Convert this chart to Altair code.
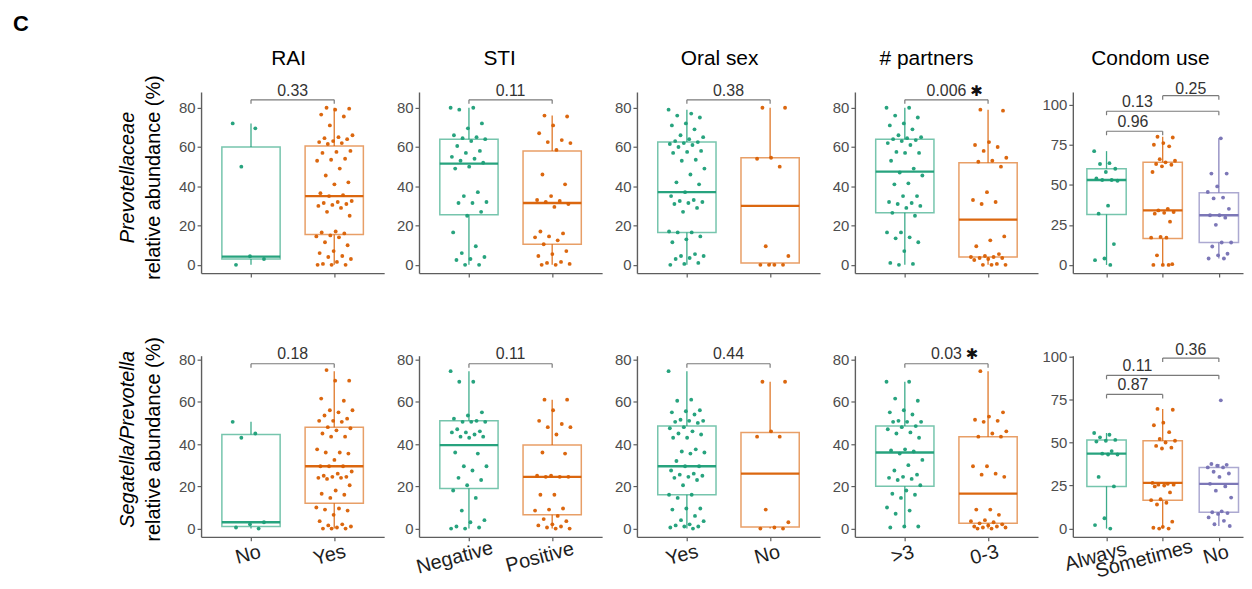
import altair as alt
import pandas as pd

GREEN, ORANGE, PURPLE = "#1b9e77", "#d95f02", "#7570b3"
FONT = "Liberation Sans"

# ---------------- text ----------------
titles = ["RAI", "STI", "Oral sex", "# partners", "Condom use"]
cats = [["No", "Yes"], ["Negative", "Positive"], ["Yes", "No"], [">3", "0-3"],
        ["Always", "Sometimes", "No"]]
ytitle_r1 = ["Prevotellaceae", "relative abundance (%)"]
ytitle_r2 = ["Segatella/Prevotella", "relative abundance (%)"]
panel_tag = "C"

# ---------------- row 1: Prevotellaceae ----------------
r1_rai_no = [72, 69.5, 50, 3, 4.4, 0]
r1_rai_yes = [80, 79.5, 79, 76.5, 75.5, 71, 66, 65, 64.5, 64, 63, 62.5, 62, 61.5, 58, 57.5,
              57, 54, 53.5, 53, 49, 45.5, 42, 41, 36.5, 35.5, 35, 32.5, 32, 31.5, 31, 30.5,
              30, 29, 27, 25, 17, 16.5, 16, 15, 14.5, 14, 11.5, 10, 7, 6, 4.5, 4, 3, 1.5,
              0.5, 0, 0, 0]
r1_sti_neg = [80, 80, 79, 72, 69.5, 66, 65, 64.5, 64, 63, 60.5, 58, 57, 55, 54, 53, 52, 50,
              49, 37, 35, 32, 31.5, 31.5, 27, 25, 16.5, 9.5, 6, 4, 3, 2.5, 0, 0]
r1_sti_pos = [76, 75.5, 71, 67, 63.5, 62.5, 62, 58.5, 46, 41, 35, 33, 32.5, 32, 31, 29.5,
              17, 16, 14.5, 14, 12.5, 10.5, 7, 5.5, 4.5, 1.5, 1, 0.5, 0, 0]
r1_oral_yes = [79, 77, 76, 75, 72, 71, 69, 66, 65, 64, 63, 62.5, 62, 61.5, 61, 60, 58, 57.5,
               57, 53.5, 53, 49, 46, 42, 41, 37, 35, 33, 32.5, 32, 31.5, 31, 29, 27, 17,
               16.5, 16.5, 14.5, 13, 11.5, 5.5, 4.5, 4.5, 3.5, 3, 1, 0.5, 0]
r1_oral_no = [80, 80, 54.5, 54, 50, 9.5, 4.5, 0, 0, 0, 0]
r1_part_gt3 = [80, 80, 76, 75, 72, 71, 69, 66, 65, 64.5, 64, 63.5, 63, 62, 61, 57.5, 57, 57,
               53, 49, 47, 45.5, 41.5, 41, 35, 35, 32, 31.5, 31, 30, 29, 26.5, 25, 16.5,
               16.5, 14, 13.5, 11.5, 7, 1, 0.5, 0]
r1_part_03 = [79, 78.5, 62.5, 61, 60, 58, 54.5, 53, 52.5, 50, 37, 33, 32, 31, 14.5, 12.5,
              9.5, 5.5, 4.5, 4, 4, 3.5, 3.5, 3, 2.5, 0.5, 0, 0, 0]
r1_cond_always = [71, 63.5, 63, 60, 58, 54, 53, 53, 52.5, 37, 32, 13, 4, 3, 0]
r1_cond_some = [80, 79.5, 76, 75, 74, 66, 65, 64, 63, 62.5, 61.5, 58, 35, 34, 33, 32.5, 32,
                27, 17.5, 17, 17, 6, 0.5, 0, 0, 0]
r1_cond_no = [79, 57, 57, 49, 45.5, 42, 41.5, 35, 31, 31, 29.5, 25, 14, 14, 11.5, 7, 6, 4, 4]

# box stats: [lower whisker, q1, median, q3, upper whisker]
r1_box = [
    [[0, 3, 4.2, 60, 72], [0, 15.5, 35, 60.5, 80]],
    [[0, 25.5, 51.5, 64, 80], [0, 10.5, 31.5, 58, 76]],
    [[0, 16.5, 37, 62.5, 79], [0, 1, 30, 54.5, 80]],
    [[0, 26.5, 47.5, 64, 80], [0, 4, 23, 52, 79]],
    [[0, 31.5, 53, 60, 71], [0, 16.5, 34, 64, 80], [4, 14, 31, 45, 79]],
]

# ---------------- row 2: Segatella/Prevotella ----------------
r2_rai_no = [50.5, 45, 43, 3, 2, 0.5, 0]
r2_rai_yes = [75, 70, 70, 61.5, 60.5, 56, 56, 55, 53.5, 52, 51, 51, 50.5, 48, 47.5, 46.5, 45,
              43.5, 43.5, 37.5, 36, 36, 35.5, 32.5, 29.5, 29.5, 29.5, 27, 26, 25, 24.5, 24.5,
              24, 24, 23.5, 20.5, 18, 16.5, 16, 14.5, 10, 9.5, 9, 8.5, 6.5, 3.5, 2, 1.5, 1,
              0.5, 0, 0, 0]
r2_sti_neg = [74.5, 69.5, 69.5, 55, 53.5, 52, 51, 50.5, 50.5, 50.5, 47, 46, 45.5, 45.5, 44.5,
              43.5, 43.5, 43, 36, 35.5, 29.5, 29.5, 27.5, 24, 23, 20.5, 18, 14.5, 8.5, 4, 3,
              1, 0.5, 0, 0]
r2_sti_pos = [61, 61, 56, 51, 49.5, 48, 48, 44.5, 36, 35.5, 25, 25, 24.5, 24.5, 24.5, 16, 16,
              9.5, 9, 8.5, 6, 4.5, 3.5, 2, 1.5, 1, 0.5, 0, 0]
r2_oral_yes = [74.5, 61, 60.5, 56, 55.5, 55, 54, 51.5, 51, 51, 50.5, 50, 48, 47.5, 46, 45,
               44.5, 43, 43, 37.5, 36.5, 36, 35.5, 32, 29.5, 29.5, 27.5, 26, 25.5, 25, 24.5,
               24, 23, 20.5, 16, 16, 14.5, 9.5, 9.5, 9, 6, 4, 3.5, 2, 1.5, 1, 1, 0.5, 0]
r2_oral_no = [69.5, 69.5, 46, 43.5, 43.5, 9, 3, 0.5, 0, 0]
r2_part_gt3 = [69.5, 69.5, 61.5, 60.5, 56, 55, 54, 51, 50.5, 50.5, 50.5, 48.5, 48, 47, 45.5,
               45, 43, 37.5, 37, 36.5, 35.5, 32.5, 30, 27.5, 25.5, 24.5, 24, 23.5, 23, 20.5,
               18, 16.5, 16, 14.5, 10, 8.5, 7, 1, 1, 0.5]
r2_part_03 = [74.5, 55, 53, 51.5, 51, 50.5, 46, 45, 43.5, 43.5, 29.5, 29.5, 26, 25.5, 24.5, 9,
              9, 6.5, 4, 3.5, 3, 2.5, 2, 1.5, 1, 1, 0.5, 0.5, 0, 0]
r2_cond_always = [55.5, 54.5, 53, 51.5, 51, 50.5, 45, 43.5, 43, 43, 30, 24.5, 6, 2, 0]
r2_cond_some = [69.5, 69, 61.5, 60, 56, 52, 51, 50, 48, 47, 46.5, 26.5, 26, 25.5, 25.5, 25,
                24.5, 21, 17, 16.5, 15, 14, 4, 1, 0.5, 0, 0]
r2_cond_no = [74.5, 37.5, 37, 36.5, 35.5, 35.5, 33, 32, 30, 26, 24.5, 22, 18, 10, 9.5, 9, 8.5,
              6.5, 4.5, 2.5, 1.5]

r2_box = [
    [[0, 1, 3, 44.5, 50.5], [0, 12, 29.5, 48, 74.5]],
    [[0, 19, 39.5, 51, 74.5], [0, 6.5, 24.5, 39.5, 61]],
    [[0, 16, 29.5, 48.5, 74.5], [0, 0.7, 26, 45.5, 69.5]],
    [[0.5, 20, 36, 48.5, 69.5], [0, 2.5, 16.5, 43.5, 74.5]],
    [[0, 24.5, 43.5, 51.5, 55.5], [0, 16.5, 26.5, 51, 69.5], [1.5, 9.5, 26, 35.5, 37.5]],
]

r1_points = [[r1_rai_no, r1_rai_yes], [r1_sti_neg, r1_sti_pos], [r1_oral_yes, r1_oral_no],
             [r1_part_gt3, r1_part_03], [r1_cond_always, r1_cond_some, r1_cond_no]]
r2_points = [[r2_rai_no, r2_rai_yes], [r2_sti_neg, r2_sti_pos], [r2_oral_yes, r2_oral_no],
             [r2_part_gt3, r2_part_03], [r2_cond_always, r2_cond_some, r2_cond_no]]

# ---------------- comparisons (p-values) ----------------
pairs = [[(1, 2)], [(1, 2)], [(1, 2)], [(1, 2)], [(1, 2), (1, 3), (2, 3)]]
r1_pvals = [["0.33"], ["0.11"], ["0.38"], ["0.006"], ["0.96", "0.13", "0.25"]]
r2_pvals = [["0.18"], ["0.11"], ["0.44"], ["0.03"], ["0.87", "0.11", "0.36"]]
r1_sig = [[False], [False], [False], [True], [False, False, False]]
r2_sig = [[False], [False], [False], [True], [False, False, False]]
r1_br_y = [[84], [84], [84], [84], [83.4, 95.9, 105.6]]
r2_br_y = [[78], [78], [78], [78], [77.9, 89, 99]]
r1_lab_y = [[88.6], [88.6], [88.6], [88.6], [89.2, 101.7, 110.0]]
r2_lab_y = [[82.8], [82.8], [82.8], [82.8], [83.3, 94.2, 103.6]]
cond_lab_x = [1.47, 1.55, 2.5]

# ---------------- layout / style ----------------
W, W5, H = 184, 171, 182
r1_dom = [[-4.2, 88]] * 4 + [[-5.1, 107.9]]
r2_dom = [[-3.9, 81.8]] * 4 + [[-4.8, 100.4]]
ticks_a = [0, 20, 40, 60, 80]
ticks_b = [0, 25, 50, 75, 100]
title_x = [88, 81, 83, 72, 78]
AXC = "#5e5e5e"
XLAB_FS = 20

cdom = ["0", "1", "2"]
crange = [GREEN, ORANGE, PURPLE]

CHAR_W = {"i": 0.222, "l": 0.222, "j": 0.222, "t": 0.278, "f": 0.278, "r": 0.333,
          "m": 0.833, "w": 0.722, "W": 0.944, "s": 0.5, "v": 0.5, "y": 0.5, "c": 0.5,
          "-": 0.333, ">": 0.584, "N": 0.722, "A": 0.667, "S": 0.667, "P": 0.667,
          "Y": 0.667}


def text_w(s, fs):
    return sum(CHAR_W.get(ch, 0.556) for ch in s) * fs


def one(s):
    return pd.DataFrame({"t": [s]})


def panel(row, col):
    groups = cats[col]
    n = len(groups)
    pts = (r1_points if row == 0 else r2_points)[col]
    stats = (r1_box if row == 0 else r2_box)[col]
    dom = (r1_dom if row == 0 else r2_dom)[col]
    yt = ticks_b if col == 4 else ticks_a
    width = W5 if col == 4 else W
    xmax = 3.43 if col == 4 else n + 0.6
    px_per_unit = H / (dom[1] - dom[0])
    drop = 4.0 / px_per_unit

    prow = []
    for gi, vals in enumerate(pts):
        for j, v in enumerate(vals):
            off = (((j * 0.618034 + gi * 0.29) % 1.0) - 0.5) * 0.44
            prow.append({"x": gi + 1 + off, "y": v, "k": str(gi)})
    pdf = pd.DataFrame(prow)

    bdf = pd.DataFrame({
        "k": [str(i) for i in range(n)],
        "c": [i + 1 for i in range(n)],
        "xl": [i + 1 - 0.35 for i in range(n)],
        "xr": [i + 1 + 0.35 for i in range(n)],
        "lo": [s[0] for s in stats], "q1": [s[1] for s in stats],
        "med": [s[2] for s in stats], "q3": [s[3] for s in stats],
        "hi": [s[4] for s in stats],
    })

    pv = (r1_pvals if row == 0 else r2_pvals)[col]
    sig = (r1_sig if row == 0 else r2_sig)[col]
    by = (r1_br_y if row == 0 else r2_br_y)[col]
    ly = (r1_lab_y if row == 0 else r2_lab_y)[col]
    brows = []
    for i, (a, b) in enumerate(pairs[col]):
        lx = cond_lab_x[i] if col == 4 else (a + b) / 2
        brows.append({"x1": a, "x2": b, "y": by[i], "yd": by[i] - drop,
                      "lx": lx, "ly": ly[i], "label": pv[i], "sig": sig[i]})
    brdf = pd.DataFrame(brows)

    xs = alt.Scale(domain=[0.4, xmax], nice=False, zero=False)
    ys = alt.Scale(domain=dom, nice=False, zero=False)
    xaxis = alt.Axis(values=list(range(1, n + 1)), labels=False, ticks=True, tickSize=4,
                     domainColor=AXC, tickColor=AXC, domainWidth=1.4, tickWidth=1.2,
                     grid=False, title="")
    yaxis = alt.Axis(values=yt, tickSize=4, domainColor=AXC, tickColor=AXC, domainWidth=1.4,
                     tickWidth=1.2, grid=False, title="", labelFontSize=15,
                     labelColor="#4d4d4d", labelFont=FONT, labelPadding=2,
                     labelOverlap=False)

    def X(f):
        return alt.X(f, type="quantitative", scale=xs, axis=xaxis, title="")

    def Y(f):
        return alt.Y(f, type="quantitative", scale=ys, axis=yaxis, title="")

    col_stroke = alt.Stroke("k:N", scale=alt.Scale(domain=cdom, range=crange), legend=None)
    col_fill = alt.Color("k:N", scale=alt.Scale(domain=cdom, range=crange), legend=None)

    box = alt.Chart(bdf).mark_rect(fillOpacity=0, strokeWidth=1.5, strokeOpacity=0.6).encode(
        x=X("xl"), x2="xr:Q", y=Y("q1"), y2="q3:Q", stroke=col_stroke)
    wlo = alt.Chart(bdf).mark_rule(strokeWidth=1.3, opacity=0.85).encode(
        x=X("c"), y=Y("lo"), y2="q1:Q", color=col_fill)
    whi = alt.Chart(bdf).mark_rule(strokeWidth=1.3, opacity=0.85).encode(
        x=X("c"), y=Y("q3"), y2="hi:Q", color=col_fill)
    med = alt.Chart(bdf).mark_rule(strokeWidth=2.3, opacity=0.95).encode(
        x=X("xl"), x2="xr:Q", y=Y("med"), color=col_fill)
    dots = alt.Chart(pdf).mark_circle(size=15, opacity=0.95).encode(
        x=X("x"), y=Y("y"), color=col_fill)

    bh = alt.Chart(brdf).mark_rule(color="#7a7a7a", strokeWidth=1.2).encode(
        x=X("x1"), x2="x2:Q", y=Y("y"))
    bl = alt.Chart(brdf).mark_rule(color="#7a7a7a", strokeWidth=1.2).encode(
        x=X("x1"), y=Y("y"), y2="yd:Q")
    br = alt.Chart(brdf).mark_rule(color="#7a7a7a", strokeWidth=1.2).encode(
        x=X("x2"), y=Y("y"), y2="yd:Q")
    blab = alt.Chart(brdf).mark_text(font=FONT, fontSize=16, color="#333333",
                                     baseline="middle", align="center").encode(
        x=X("lx"), y=Y("ly"), text="label:N")
    layers = [box, wlo, whi, med, dots, bh, bl, br, blab]

    sdf = brdf[brdf["sig"]]
    if len(sdf):
        half = len(sdf["label"].iloc[0]) * 4.6 + 1
        star = alt.Chart(sdf).mark_text(text="\u2731", font="DejaVu Sans", fontSize=15,
                                        color="#111111", align="left", baseline="middle",
                                        dx=half).encode(x=X("lx"), y=Y("ly"))
        layers.append(star)

    if row == 1:
        # category labels, rotated 15 degrees, anchored ~70% along the text (like hjust)
        for gi, g in enumerate(groups):
            ldf = pd.DataFrame({"c": [gi + 1], "lab": [g]})
            layers.append(alt.Chart(ldf).mark_text(
                font=FONT, fontSize=XLAB_FS, color="#1e1e1e", angle=345, align="center",
                baseline="top", dx=-0.22 * text_w(g, XLAB_FS)).encode(
                x=X("c"), y=alt.value(H + 7), text="lab:N"))

    if row == 0:
        layers.append(alt.Chart(one(titles[col])).mark_text(
            font=FONT, fontSize=21, color="black", baseline="middle", align="center").encode(
            x=alt.value(title_x[col]), y=alt.value(-33), text="t:N"))

    if col == 0:
        yl = ytitle_r1 if row == 0 else ytitle_r2
        yc = 86 if row == 0 else 84
        layers.append(alt.Chart(one(yl[0])).mark_text(
            font=FONT, fontSize=20, fontStyle="italic", color="black", angle=270,
            baseline="middle", align="center").encode(
            x=alt.value(-73), y=alt.value(yc), text="t:N"))
        layers.append(alt.Chart(one(yl[1])).mark_text(
            font=FONT, fontSize=20, color="black", angle=270,
            baseline="middle", align="center").encode(
            x=alt.value(-47), y=alt.value(yc), text="t:N"))
        if row == 0:
            layers.append(alt.Chart(one(panel_tag)).mark_text(
                font=FONT, fontSize=22, fontWeight="bold", color="black",
                baseline="middle", align="center").encode(
                x=alt.value(-181), y=alt.value(-68), text="t:N"))
            layers.append(alt.Chart(one("")).mark_point(opacity=0, size=1).encode(
                x=alt.value(-193), y=alt.value(-82)))

    return alt.layer(*layers).properties(width=width, height=H)


charts = [panel(r, c) for r in range(2) for c in range(5)]
chart = alt.ConcatChart(
    concat=charts, columns=5, spacing={"row": 83, "column": 35}, bounds="flush",
    padding={"left": 0, "top": 0, "right": 0, "bottom": 0},
).configure(background="white", view=alt.ViewConfig(stroke="transparent"))

chart.save("out.html", embed_options={"renderer": "svg", "actions": False})
